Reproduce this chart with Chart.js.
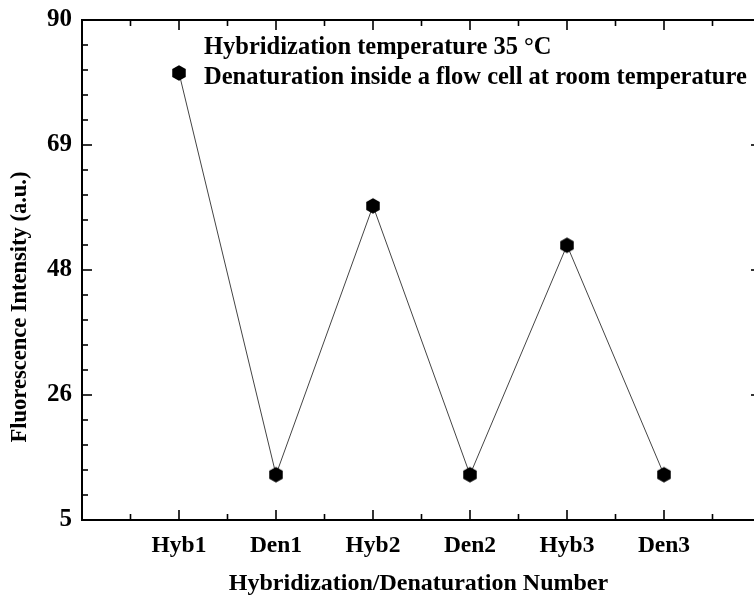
<!DOCTYPE html>
<html>
<head>
<meta charset="utf-8">
<script src="https://cdn.jsdelivr.net/npm/chart.js@4.4.1/dist/chart.umd.min.js"></script>
<style>
  html, body { margin: 0; padding: 0; background: #fff; overflow: hidden; }
  #wrap { width: 772px; height: 596px; position: relative; }
</style>
</head>
<body>
<div id="wrap"><canvas id="grafica"></canvas></div>
<script>
// ── Datos ──────────────────────────────────────────────────
const categorias   = ["Hyb1", "Den1", "Hyb2", "Den2", "Hyb3", "Den3"];
const intensidad   = [81.0, 12.7, 58.4, 12.7, 51.7, 12.7];
const yTickValores = [5, 26.25, 47.5, 68.75, 90];
const yTickTextos  = ["5", "26", "48", "69", "90"];
const notas        = ["Hybridization temperature 35 °C",
                      "Denaturation inside a flow cell at room temperature"];
const tituloX      = "Hybridization/Denaturation Number";
const tituloY      = "Fluorescence Intensity (a.u.)";

const FUENTE = '"Liberation Serif", "Times New Roman", serif';

// ── Marcador hexagonal ─────────────────────────────────────
function hexagono(r) {
  const c = document.createElement("canvas");
  const s = Math.ceil(r * 2 + 2);
  c.width = s; c.height = s;
  const g = c.getContext("2d");
  g.fillStyle = "#000";
  g.beginPath();
  for (let i = 0; i < 6; i++) {
    const a = Math.PI / 2 + i * Math.PI / 3;
    const px = s / 2 + r * Math.cos(a), py = s / 2 + r * Math.sin(a);
    i ? g.lineTo(px, py) : g.moveTo(px, py);
  }
  g.closePath();
  g.fill();
  return c;
}
const marcador = hexagono(7.8);

// ── Marco, ticks internos y textos ─────────────────────────
const marco = {
  id: "marco",
  afterDraw(chart) {
    const { ctx, chartArea: a, scales: { x, y } } = chart;
    ctx.save();
    ctx.strokeStyle = "#000";
    ctx.lineWidth = 2;
    ctx.strokeRect(a.left, a.top, a.right - a.left, a.bottom - a.top);

    ctx.lineWidth = 1.6;
    const tick = (x1, y1, x2, y2) => { ctx.beginPath(); ctx.moveTo(x1, y1); ctx.lineTo(x2, y2); ctx.stroke(); };
    // eje Y: mayores + 4 menores por intervalo
    for (let i = 0; i < yTickValores.length; i++) {
      const py = y.getPixelForValue(yTickValores[i]);
      tick(a.left, py, a.left + 10, py);
      tick(a.right, py, a.right - 10, py);
      if (i < yTickValores.length - 1) {
        const paso = (yTickValores[i + 1] - yTickValores[i]) / 5;
        for (let k = 1; k < 5; k++) {
          const pm = y.getPixelForValue(yTickValores[i] + k * paso);
          tick(a.left, pm, a.left + 6, pm);
          tick(a.right, pm, a.right - 6, pm);
        }
      }
    }
    // eje X
    for (let i = -1; i <= categorias.length; i++) {
      const px = x.getPixelForValue(i);
      if (i >= 0 && i < categorias.length) {
        tick(px, a.bottom, px, a.bottom - 10);
        tick(px, a.top, px, a.top + 10);
      }
      const pm = x.getPixelForValue(i + 0.5);
      if (i + 0.5 < x.max) {
        tick(pm, a.bottom, pm, a.bottom - 6);
        tick(pm, a.top, pm, a.top + 6);
      }
    }

    ctx.fillStyle = "#000";
    ctx.font = `bold 24.5px ${FUENTE}`;
    ctx.textAlign = "left";
    ctx.textBaseline = "alphabetic";
    ctx.fillText(notas[0], 204, 54);
    ctx.fillText(notas[1], 204, 84);

    ctx.font = `bold 24px ${FUENTE}`;
    ctx.textAlign = "center";
    ctx.textBaseline = "middle";
    ctx.fillText(tituloX, (a.left + a.right) / 2 - 3, 584);

    ctx.font = `bold 22.5px ${FUENTE}`;
    ctx.translate(20, 307);
    ctx.rotate(-Math.PI / 2);
    ctx.fillText(tituloY, 0, 0);
    ctx.restore();
  }
};

new Chart(document.getElementById("grafica"), {
  type: "line",
  data: {
    datasets: [{
      data: intensidad.map((v, i) => ({ x: i, y: v })),
      borderColor: "#444",
      borderWidth: 1,
      pointStyle: marcador,
      pointRadius: 8,
      pointHoverRadius: 8,
      tension: 0,
    }]
  },
  options: {
    responsive: true,
    maintainAspectRatio: false,
    animation: false,
    events: [],
    layout: { padding: { top: 20, right: 11, left: 0, bottom: 0 } },
    plugins: { legend: { display: false }, tooltip: { enabled: false } },
    scales: {
      x: {
        type: "linear",
        min: -1,
        max: 6,
        afterBuildTicks: (s) => { s.ticks = categorias.map((_, i) => ({ value: i })); },
        afterFit: (s) => { s.height = 76; },
        ticks: {
          autoSkip: false,
          maxRotation: 0,
          padding: 4,
          color: "#000",
          font: { family: FUENTE, size: 23.5, weight: "bold" },
          callback: (v) => categorias[v] ?? "",
        },
        grid: { display: false },
        border: { display: false },
      },
      y: {
        min: 5,
        max: 90,
        afterBuildTicks: (s) => { s.ticks = yTickValores.map((v) => ({ value: v })); },
        afterFit: (s) => { s.width = 82; },
        ticks: {
          padding: 2,
          color: "#000",
          font: { family: FUENTE, size: 25, weight: "bold" },
          callback: (v) => yTickTextos[yTickValores.indexOf(v)],
        },
        grid: { display: false },
        border: { display: false },
      }
    }
  },
  plugins: [marco]
});
</script>
</body>
</html>
